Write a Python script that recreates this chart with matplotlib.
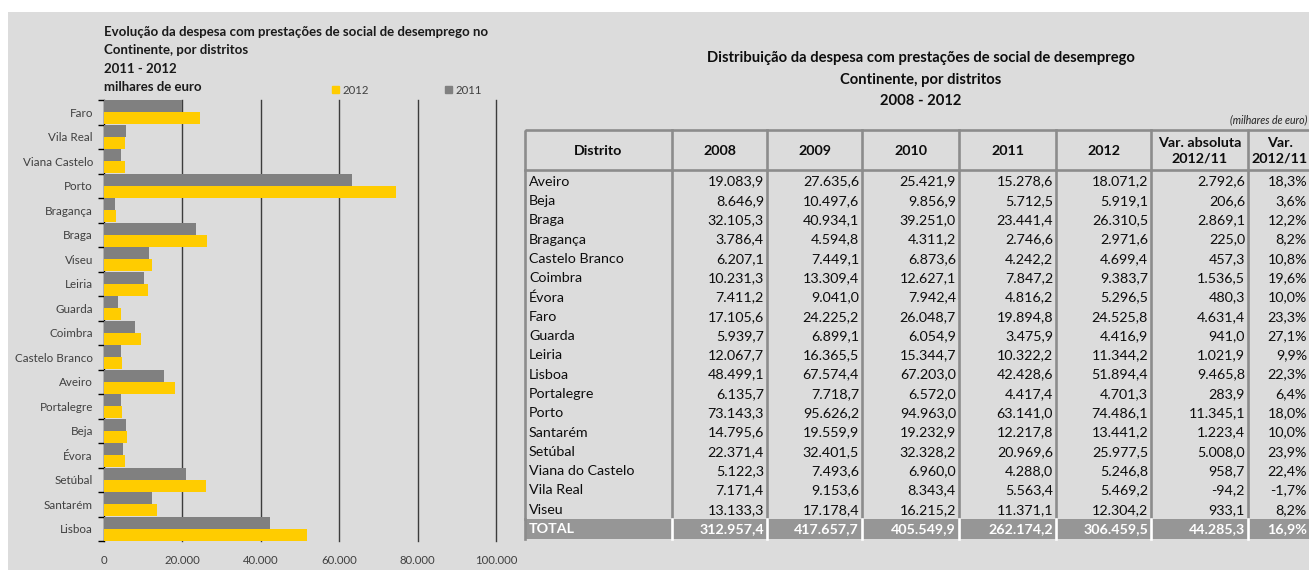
import numpy as np
import matplotlib
matplotlib.use('Agg')
import matplotlib.pyplot as plt
from matplotlib.patches import Rectangle, Patch

plt.rcParams['font.family'] = ['Lato', 'DejaVu Sans']

# despesa por distrito (milhares de euro)
distritos = ['Aveiro', 'Beja', 'Braga', 'Bragança', 'Castelo Branco', 'Coimbra', 'Évora',
             'Faro', 'Guarda', 'Leiria', 'Lisboa', 'Portalegre', 'Porto', 'Santarém',
             'Setúbal', 'Viana do Castelo', 'Vila Real', 'Viseu']
d2008 = [19083.9, 8646.9, 32105.3, 3786.4, 6207.1, 10231.3, 7411.2, 17105.6, 5939.7,
         12067.7, 48499.1, 6135.7, 73143.3, 14795.6, 22371.4, 5122.3, 7171.4, 13133.3]
d2009 = [27635.6, 10497.6, 40934.1, 4594.8, 7449.1, 13309.4, 9041.0, 24225.2, 6899.1,
         16365.5, 67574.4, 7718.7, 95626.2, 19559.9, 32401.5, 7493.6, 9153.6, 17178.4]
d2010 = [25421.9, 9856.9, 39251.0, 4311.2, 6873.6, 12627.1, 7942.4, 26048.7, 6054.9,
         15344.7, 67203.0, 6572.0, 94963.0, 19232.9, 32328.2, 6960.0, 8343.4, 16215.2]
d2011 = [15278.6, 5712.5, 23441.4, 2746.6, 4242.2, 7847.2, 4816.2, 19894.8, 3475.9,
         10322.2, 42428.6, 4417.4, 63141.0, 12217.8, 20969.6, 4288.0, 5563.4, 11371.1]
d2012 = [18071.2, 5919.1, 26310.5, 2971.6, 4699.4, 9383.7, 5296.5, 24525.8, 4416.9,
         11344.2, 51894.4, 4701.3, 74486.1, 13441.2, 25977.5, 5246.8, 5469.2, 12304.2]
var_abs = [2792.6, 206.6, 2869.1, 225.0, 457.3, 1536.5, 480.3, 4631.4, 941.0,
           1021.9, 9465.8, 283.9, 11345.1, 1223.4, 5008.0, 958.7, -94.2, 933.1]
var_pct = [18.3, 3.6, 12.2, 8.2, 10.8, 19.6, 10.0, 23.3, 27.1,
           9.9, 22.3, 6.4, 18.0, 10.0, 23.9, 22.4, -1.7, 8.2]
total = [312957.4, 417657.7, 405549.9, 262174.2, 306459.5, 44285.3]
total_pct = 16.9

# ordem do grafico (de cima para baixo)
graf_labels = ['Faro', 'Vila Real', 'Viana Castelo', 'Porto', 'Bragança', 'Braga', 'Viseu',
               'Leiria', 'Guarda', 'Coimbra', 'Castelo Branco', 'Aveiro', 'Portalegre',
               'Beja', 'Évora', 'Setúbal', 'Santarém', 'Lisboa']
graf_distritos = ['Faro', 'Vila Real', 'Viana do Castelo', 'Porto', 'Bragança', 'Braga',
                  'Viseu', 'Leiria', 'Guarda', 'Coimbra', 'Castelo Branco', 'Aveiro',
                  'Portalegre', 'Beja', 'Évora', 'Setúbal', 'Santarém', 'Lisboa']
xticks = [0, 20000, 40000, 60000, 80000, 100000]

GREY_BG = '#dcdcdc'
YELLOW = '#ffcc00'
GREY_BAR = '#808080'
LINE = '#8c8c8c'
TXT = '#0d0d0d'

W, H = 1309, 570
fig = plt.figure(figsize=(W / 100, H / 100), dpi=100, facecolor='white')
fig.add_artist(Rectangle((8 / W, 0), 1, 1 - 12 / H, transform=fig.transFigure,
                         facecolor=GREY_BG, edgecolor='none', zorder=-5))


def px_axes(x0, y0, x1, y1):
    return fig.add_axes([x0 / W, 1 - y1 / H, (x1 - x0) / W, (y1 - y0) / H])


def pt(v, nd=1):
    s = f'{v:,.{nd}f}'
    return s.replace(',', 'X').replace('.', ',').replace('X', '.')


# ---- grafico de barras ----
ax = px_axes(104, 100, 496, 541)
ax.set_facecolor('none')
idx = [distritos.index(d) for d in graf_distritos]
v11 = [d2011[i] for i in idx]
v12 = [d2012[i] for i in idx]
y = np.arange(len(graf_labels))
h = 0.47
ax.barh(y - 0.245, v11, height=h, color=GREY_BAR, label='2011', zorder=3)
ax.barh(y + 0.245, v12, height=h, color=YELLOW, label='2012', zorder=3)
for xv in xticks[1:]:
    ax.axvline(xv, color='#3c3c3c', lw=1.0, zorder=1, clip_on=False)
ax.set_xlim(0, 100000)
ax.set_ylim(len(graf_labels) - 0.5, -0.5)
for s in ['top', 'bottom', 'right']:
    ax.spines[s].set_visible(False)
ax.spines['left'].set_color('black')
ax.spines['left'].set_linewidth(1.0)
ax.set_yticks(y)
ax.set_yticklabels(graf_labels, fontsize=8.4, color='#404040')
ax.set_yticks(np.arange(-0.5, len(graf_labels)), minor=True)
ax.tick_params(axis='y', which='major', length=0, pad=8)
ax.tick_params(axis='y', which='minor', length=4, width=1, color='black', direction='out')
ax.set_xticks(xticks)
ax.set_xticklabels([pt(v, 0) for v in xticks], fontsize=8.2, color='#404040')
ax.tick_params(axis='x', length=0, pad=10)

titulo = ['Evolução da despesa com prestações de social de desemprego no',
          'Continente, por distritos', '2011 - 2012', 'milhares de euro']
for t, yy in zip(titulo, [32, 50, 69, 87]):
    fig.text(104 / W, 1 - yy / H, t, fontsize=9.5, fontweight='bold', color='#1a1a1a',
             ha='left', va='center')

handles = [Patch(color=YELLOW), Patch(color=GREY_BAR)]
fig.legend(handles, ['2012', '2011'], loc='center left', bbox_to_anchor=(322 / W, 1 - 90 / H),
           ncol=2, frameon=False, fontsize=8.2, handlelength=0.6, handleheight=0.6,
           handletextpad=0.3, columnspacing=6.7, labelcolor='#404040')

# ---- quadro ----
tb = px_axes(0, 0, W, H)
tb.set_xlim(0, W)
tb.set_ylim(H, 0)
tb.axis('off')
tb.patch.set_alpha(0)

FS = 10.3
titulo2 = ['Distribuição da despesa com prestações de social de desemprego',
           'Continente, por distritos', '2008 - 2012']
for t, yy in zip(titulo2, [58, 80, 101]):
    tb.text(921, yy, t, fontsize=10.6, fontweight='bold', ha='center', va='center', color=TXT)
tb.text(1307, 120, '(milhares de euro)', fontsize=7.6, style='italic', ha='right',
        va='center', color='#222222')

cols = [525, 672, 767, 862, 959, 1056, 1151, 1248, 1316]
head_top, head_bot = 130, 170
row_h = 19.3
n = len(distritos)
tot_top = head_bot + 2 + row_h * n
tot_bot = tot_top + row_h
lw = 1.9

# cabecalho
tb.add_patch(Rectangle((cols[0], head_top), cols[-1] - cols[0], head_bot - head_top,
                       facecolor='none', edgecolor=LINE, lw=lw))
for c in cols[1:-1]:
    tb.plot([c, c], [head_top, head_bot], color=LINE, lw=lw)
headers = ['Distrito', '2008', '2009', '2010', '2011', '2012', 'Var. absoluta\n2012/11',
           'Var.\n2012/11']
for j, t in enumerate(headers):
    xc = (cols[j] + cols[j + 1]) / 2
    if j == len(headers) - 1:
        xc = 1280
    tb.text(xc, (head_top + head_bot) / 2 + 1, t, fontsize=FS,
            fontweight='bold', ha='center', va='center', linespacing=1.35, color=TXT)

# linhas de dados
for c in cols[:-1]:
    tb.plot([c, c], [head_bot, tot_top], color=LINE, lw=lw)
series = [d2008, d2009, d2010, d2011, d2012, var_abs]
for i, nome in enumerate(distritos):
    yc = head_bot + 2 + row_h * (i + 0.5)
    tb.text(cols[0] + 4, yc, nome, fontsize=FS, ha='left', va='center', color=TXT)
    for j, s in enumerate(series):
        tb.text(cols[j + 2] - 3, yc, pt(s[i]), fontsize=FS, ha='right', va='center',
                color=TXT)
    tb.text(1307, yc, pt(var_pct[i]) + '%', fontsize=FS, ha='right', va='center',
            color=TXT)

# total
tb.add_patch(Rectangle((cols[0], tot_top), cols[-1] - cols[0], row_h,
                       facecolor='#969696', edgecolor='none'))
tb.plot([cols[0], cols[0]], [tot_top, tot_bot], color=LINE, lw=lw)
for c in cols[1:-1]:
    tb.plot([c, c], [tot_top, tot_bot], color='white', lw=lw)
yc = tot_top + row_h / 2
tb.text(cols[0] + 4, yc, 'TOTAL', fontsize=FS, fontweight='bold', ha='left', va='center',
        color='white')
for j, v in enumerate(total):
    tb.text(cols[j + 2] - 3, yc, pt(v), fontsize=FS, fontweight='bold', ha='right',
            va='center', color='white')
tb.text(1307, yc, pt(total_pct) + '%', fontsize=FS, fontweight='bold', ha='right',
        va='center', color='white')

fig.savefig('out.png', dpi=100, facecolor=fig.get_facecolor())
